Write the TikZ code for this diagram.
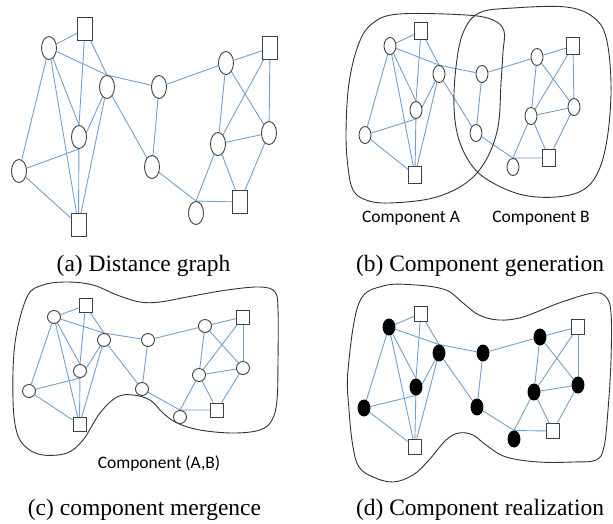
\documentclass[tikz,border=0pt]{standalone}
\usepackage{fontspec}
\setmainfont{Liberation Serif}
\newfontfamily\labelfont{Carlito}
\usetikzlibrary{shapes.geometric}
\pgfdeclarelayer{bg}
\pgfsetlayers{bg,main}
\definecolor{edgeblue}{RGB}{112,160,208}
\definecolor{outline}{RGB}{64,64,64}

\tikzset{
  link/.style={draw=edgeblue, line width=0.9pt},
  vtx/.style={ellipse, draw=outline, fill=white, line width=0.9pt, inner sep=0pt},
  term/.style={rectangle, draw=outline, fill=white, line width=0.9pt, inner sep=0pt},
  hull/.style={draw=black!80, line width=0.9pt},
  caption/.style={font=\fontsize{23.5}{26}\selectfont},
  complabel/.style={font=\labelfont\fontsize{17.5}{20}\selectfont},
}

% all connectors of one copy of the graph; #1 is the name prefix
\newcommand\drawlinks[1]{%
  \begin{pgfonlayer}{bg}
    \draw[link] (#1e1) -- (#1s1);
    \draw[link] (#1e1) -- (#1e2.north);
    \draw[link] (#1s1) -- (#1e2.north);
    \draw[link] (#1e2.north) -- (#1e3);
    \draw[link] (#1e1) -- (#1e5.north);
    \draw[link] (#1s1) -- (#1e5.north);
    \draw[link] (#1e1) -- (#1e6);
    \draw[link] (#1e1) -- (#1s3);
    \draw[link] (#1e5) -- (#1s3);
    \draw[link] (#1e6) -- (#1e5.south);
    \draw[link] (#1e2) -- (#1e5.south);
    \draw[link] (#1e6) -- (#1s3);
    \draw[link] (#1e2) -- (#1s3);
    \draw[link] (#1e2) -- (#1e7);
    \draw[link] (#1e3) -- (#1e7);
    \draw[link] (#1e3) -- (#1e4);
    \draw[link] (#1e4) -- (#1s2);
    \draw[link] (#1e4) -- (#1e8);
    \draw[link] (#1e4) -- (#1e9);
    \draw[link] (#1s2) -- (#1e9);
    \draw[link] (#1s2) -- (#1e8);
    \draw[link] (#1e8) -- (#1e9);
    \draw[link] (#1e8) -- (#1e10.north);
    \draw[link] (#1e8) -- (#1s4);
    \draw[link] (#1e9) -- (#1s4);
    \draw[link] (#1e7) -- (#1e10.north);
    \draw[link] (#1e10.north) -- (#1s4);
  \end{pgfonlayer}}

\begin{document}
\begin{tikzpicture}[x=1pt,y=-1pt]
\useasboundingbox (0,0) rectangle (613,523);

% ---------- (a) distance graph ----------
\begin{scope}[vtx/.append style={minimum width=15pt, minimum height=23pt},
              term/.append style={minimum width=15pt, minimum height=23pt}]
  \node[term] (as1) at (85,29) {};
  \node[vtx]  (ae1) at (49,48) {};
  \node[vtx]  (ae2) at (107,87) {};
  \node[vtx]  (ae3) at (159,87) {};
  \node[vtx]  (ae4) at (226,63) {};
  \node[term] (as2) at (270,48) {};
  \node[vtx]  (ae5) at (79,137) {};
  \node[vtx]  (ae6) at (19,171) {};
  \node[term] (as3) at (78.5,225) {};
  \node[vtx]  (ae7) at (152,167) {};
  \node[vtx]  (ae8) at (218,144) {};
  \node[vtx]  (ae9) at (269,133) {};
  \node[term] (as4) at (240,202) {};
  \node[vtx]  (ae10) at (196,213) {};
  \drawlinks{a}
\end{scope}
\node[caption] (capa) at (143.5,266) {(a) Distance graph};

% ---------- (b) component generation ----------
\draw[hull] plot[smooth cycle, tension=0.6] coordinates {
  (399,14) (466,15) (493,20) (504,31) (503,52) (501,83) (498,127) (486,160)
  (466,183) (433,198) (389,203) (366,200) (353,190) (348,167) (346,133)
  (349,83) (359,43) (373,23)};
\draw[hull] plot[smooth cycle, tension=0.6] coordinates {
  (479,13) (513,8) (566,7) (593,17) (606,37) (611,83) (608,133) (599,170)
  (583,190) (556,197) (523,195) (493,183) (473,167) (459,140) (454,107)
  (456,67) (463,33)};
\begin{scope}[vtx/.append style={minimum width=12pt, minimum height=17pt},
              term/.append style={minimum width=13pt, minimum height=17pt}]
  \node[term] (bs1) at (421,31) {};
  \node[vtx]  (be1) at (390,46) {};
  \node[vtx]  (be2) at (439,74) {};
  \node[vtx]  (be3) at (482,74) {};
  \node[vtx]  (be4) at (537,57) {};
  \node[term] (bs2) at (573,46) {};
  \node[vtx]  (be5) at (416,110) {};
  \node[vtx]  (be6) at (365,135) {};
  \node[term] (bs3) at (415,175) {};
  \node[vtx]  (be7) at (476,133) {};
  \node[vtx]  (be8) at (531,116) {};
  \node[vtx]  (be9) at (574,107) {};
  \node[term] (bs4) at (549,158) {};
  \node[vtx]  (be10) at (513,167) {};
  \drawlinks{b}
\end{scope}
\node[complabel] (compa) at (411,218) {Component A};
\node[complabel] (compb) at (541,218) {Component B};
\node[caption] (capb) at (480,266) {(b) Component generation};

% ---------- (c) component mergence ----------
\draw[hull] plot[smooth cycle, tension=0.6] coordinates {
  (15,343) (27,297) (43,285) (67,282) (93,285) (117,295) (140,302) (160,302)
  (187,297) (227,290) (260,287) (275,292) (278,310) (278,360) (277,400)
  (272,420) (260,430) (233,433) (200,430) (177,423) (163,413) (150,400)
  (133,395) (117,397) (100,413) (83,440) (67,453) (43,455) (27,448)
  (17,433) (13,400)};
\begin{scope}[vtx/.append style={minimum width=13pt, minimum height=13pt},
              term/.append style={minimum width=13pt, minimum height=14pt}]
  \node[term] (cs1) at (85.5,305.5) {};
  \node[vtx]  (ce1) at (54,317) {};
  \node[vtx]  (ce2) at (104,340) {};
  \node[vtx]  (ce3) at (148,340) {};
  \node[vtx]  (ce4) at (205,326) {};
  \node[term] (cs2) at (243,317) {};
  \node[vtx]  (ce5) at (80,371) {};
  \node[vtx]  (ce6) at (29,391) {};
  \node[term] (cs3) at (79.5,424.5) {};
  \node[vtx]  (ce7) at (142,389) {};
  \node[vtx]  (ce8) at (199,375) {};
  \node[vtx]  (ce9) at (243,368) {};
  \node[term] (cs4) at (217,410) {};
  \node[vtx]  (ce10) at (180,417) {};
  \drawlinks{c}
\end{scope}
\node[complabel] (compab) at (159,463) {Component (A,B)};
\node[caption] (capc) at (144.5,510) {(c) component mergence};

% ---------- (d) component realization ----------
\draw[hull] plot[smooth cycle, tension=0.6] coordinates {
  (359,303) (383,286) (416,285) (446,290) (463,303) (479,315) (499,320)
  (523,317) (559,303) (593,293) (606,297) (611,313) (611,360) (608,410)
  (604,447) (596,460) (573,462) (539,462) (506,457) (486,445) (473,435)
  (459,433) (446,440) (429,460) (413,475) (393,482) (373,477) (359,467)
  (353,447) (349,410) (348,370)};
\begin{scope}[vtx/.append style={minimum width=12pt, minimum height=16pt, fill=black, draw=black},
              term/.append style={minimum width=13pt, minimum height=15pt}]
  \node[term] (ds1) at (420.7,313.5) {};
  \node[vtx]  (de1) at (389,327) {};
  \node[vtx]  (de2) at (439,353) {};
  \node[vtx]  (de3) at (483,353) {};
  \node[vtx]  (de4) at (540,337) {};
  \node[term] (ds2) at (578,327) {};
  \node[vtx]  (de5) at (416,387) {};
  \node[vtx]  (de6) at (364,408) {};
  \node[term] (ds3) at (414.7,446.7) {};
  \node[vtx]  (de7) at (477,407) {};
  \node[vtx]  (de8) at (534,392) {};
  \node[vtx]  (de9) at (578,385) {};
  \node[term] (ds4) at (553,431) {};
  \node[vtx]  (de10) at (514,439) {};
  \drawlinks{d}
\end{scope}
\node[caption] (capd) at (480,510) {(d) Component realization};
\end{tikzpicture}
\end{document}
